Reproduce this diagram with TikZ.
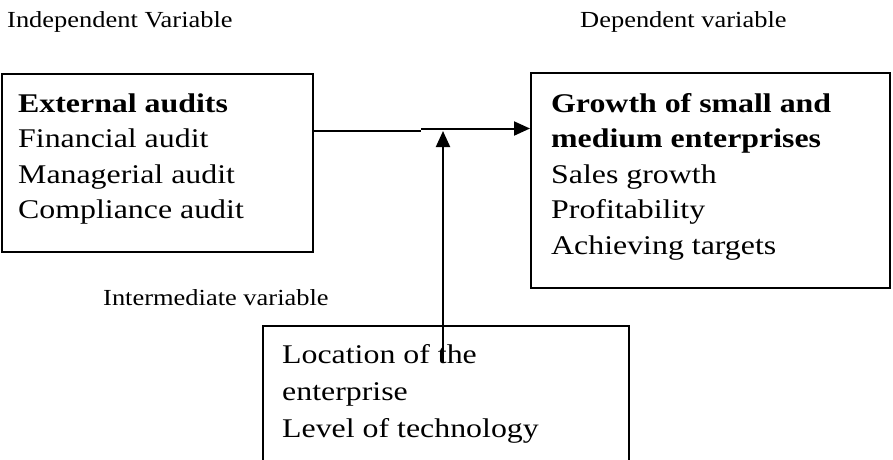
\documentclass[tikz,border=0pt]{standalone}
\usepackage{fontspec}
\setmainfont{Liberation Serif}[FakeStretch=1.18]
\newfontfamily\labelfont{Liberation Serif}[FakeStretch=1.15]
\usetikzlibrary{arrows.meta}
\tikzset{
  box/.style={draw, line width=2pt, inner sep=0pt, anchor=north west},
  boxtext/.style={inner sep=0pt, anchor=base west, align=left, font=\fontsize{27}{35.5}\selectfont},
  lbl/.style={inner sep=0pt, anchor=base west, font=\labelfont\fontsize{23}{27}\selectfont},
  conn/.style={line width=2pt},
  arr/.style={line width=2pt, -{Triangle[length=16pt,width=14pt]}}
}
\begin{document}
\begin{tikzpicture}[x=1pt,y=-1pt]
\useasboundingbox (0,0) rectangle (893,459);
\clip (0,0) rectangle (893,459);
% labels
\node[lbl] (indep) at (7,27) {Independent Variable};
\node[lbl] (dep) at (580,27) {Dependent variable};
\node[lbl] (inter) at (103,305) {Intermediate variable};
% boxes
\node[box, minimum width=311pt, minimum height=178pt] (L) at (1,73) {};
\node[box, minimum width=359pt, minimum height=215pt] (R) at (530,72) {};
\node[box, minimum width=366pt, minimum height=160pt] (M) at (262,325) {};
% texts (anchor at the baseline of the last line)
\node[boxtext] (Lt) at (18,218.5) {\textbf{External audits}\\Financial audit\\Managerial audit\\Compliance audit};
\node[boxtext] (Rt) at (551,254) {\textbf{Growth of small and}\\\textbf{medium enterprises}\\Sales growth\\Profitability\\Achieving targets};
\node[boxtext, font=\fontsize{27}{37}\selectfont] (Mt) at (282,437) {Location of the\\enterprise\\Level of technology};
% connectors
\coordinate (h1) at (L.east |- 0,130.5);
\coordinate (h2) at (421,130.5);
\coordinate (h3) at (421,128.5);
\coordinate (h4) at (R.west |- 0,128.5);
\draw[conn] (h1) -- (h2);
\draw[arr] (h3) -- (h4);
\coordinate (vs) at (443,362);
\coordinate (ve) at (443,131);
\draw[arr] (vs) -- (ve);
\end{tikzpicture}
\end{document}
